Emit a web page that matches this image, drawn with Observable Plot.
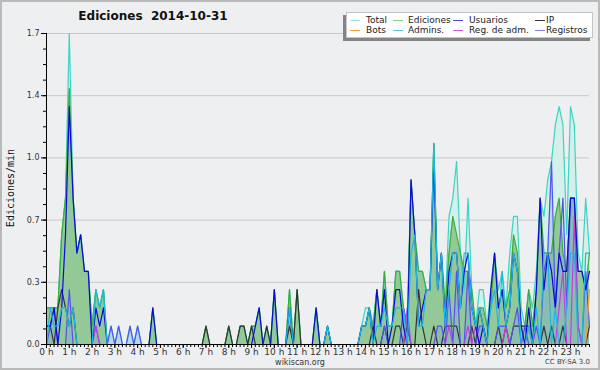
<!DOCTYPE html>
<html><head><meta charset="utf-8">
<script src="https://cdn.jsdelivr.net/npm/d3@7"></script>
<script src="https://cdn.jsdelivr.net/npm/@observablehq/plot@0.6"></script>
<style>
body{margin:0;background:#eeeff1;}
#wrap{position:relative;width:600px;height:370px;background:#eeeff1;font-family:"DejaVu Sans",sans-serif;overflow:hidden;}
#chart{position:absolute;left:0;top:0;}
#frame{position:absolute;left:0;top:0;width:600px;height:370px;box-sizing:border-box;border:2px solid #b9b9b9;pointer-events:none;}
#title{position:absolute;left:0;width:306px;top:9px;text-align:center;font-weight:bold;font-size:12px;white-space:pre;color:#111;}
#legend{position:absolute;left:346px;top:12px;width:245px;height:24px;background:#fff;border:1px solid #c4c4c4;box-shadow:-3px 3px 0 #858585;}
.li{position:absolute;font-size:9px;line-height:10px;color:#222;white-space:nowrap;}
.sw{position:absolute;width:10px;height:0;border-top:1.5px solid;}
#ylab{position:absolute;left:10px;top:188px;transform:translate(-50%,-50%) rotate(-90deg);font-family:"DejaVu Sans Mono",monospace;font-size:10px;color:#111;white-space:nowrap;}
#src{position:absolute;left:300px;top:358px;line-height:9px;transform:translateX(-50%);font-size:8px;color:#333;}
#lic{position:absolute;right:10px;top:358px;line-height:8px;font-size:7px;color:#444;}
</style></head>
<body>
<div id="wrap">
  <div id="chart"></div>
  <div id="title">Ediciones  2014-10-31</div>
  <div id="legend"></div>
  <div id="ylab">Ediciones/min</div>
  <div id="src">wikiscan.org</div>
  <div id="lic">CC BY-SA 3.0</div>
  <div id="frame"></div>
</div>
<script>
// edits per 10-minute bin (144 bins, 00:00 – 23:50)
const total = [
2,2,2,2,6,8, 17,8,5,6,4,4, 1,3,2,3,0,1, 0,1,0,0,1,0, 1,0,0,0,2,0, 0,0,0,0,0,0,
0,0,0,0,0,0, 1,0,0,0,0,0, 1,0,0,1,1,0, 1,1,2,0,1,0, 3,0,0,0,3,0, 3,0,0,0,0,2,
0,0,1,0,0,0, 0,0,0,0,0,1, 2,2,1,3,1,4, 1,1,4,4,2,1, 9,6,4,4,3,3, 11,3,5,2,7,8,
10,5,3,8,3,1, 3,3,1,3,5,3, 4,2,5,7,7,2, 1,3,2,4,8,7, 9,10,12,13,12,6, 13,12,5,4,8,5];
const ediciones = [
2,2,2,2,6,8, 14,8,5,6,4,4, 1,3,2,3,0,0, 0,0,0,0,0,0, 0,0,0,0,2,0, 0,0,0,0,0,0,
0,0,0,0,0,0, 1,0,0,0,0,0, 1,0,0,1,1,0, 1,1,2,0,1,0, 3,0,0,0,3,0, 3,0,0,0,0,2,
0,0,1,0,0,0, 0,0,0,0,0,1, 1,2,1,3,1,4, 1,1,4,4,2,1, 9,6,4,4,3,3, 11,3,5,2,5,7,
6,5,4,4,3,1, 2,2,1,2,5,2, 3,2,3,6,5,1, 1,3,1,3,8,5, 5,5,7,8,5,4, 8,8,4,4,3,5];
const usuarios = [
1,1,2,0,2,6, 13,8,5,6,4,4, 0,2,1,2,0,0, 0,0,0,0,0,0, 0,0,0,0,2,0, 0,0,0,0,0,0,
0,0,0,0,0,0, 0,0,0,0,0,0, 0,0,0,0,0,0, 0,1,2,0,0,0, 3,0,0,0,2,0, 0,0,0,0,0,2,
0,0,1,0,0,0, 0,0,0,0,0,1, 1,2,0,3,1,3, 0,1,3,3,1,0, 9,6,1,2,3,3, 10,3,5,1,4,5,
5,2,4,5,2,1, 0,1,0,3,5,2, 3,1,2,5,4,1, 0,2,0,3,8,3, 5,4,2,5,4,4, 8,8,4,4,3,4];
const ip = [
1,1,0,2,3,2, 1,2,0,0,0,0, 0,0,0,0,0,0, 0,0,0,0,0,0, 0,0,0,0,0,0, 0,0,0,0,0,0,
0,0,0,0,0,0, 1,0,0,0,0,0, 1,0,0,1,1,0, 1,0,0,0,1,0, 0,0,0,0,1,0, 3,0,0,0,0,0,
0,0,0,0,0,0, 0,0,0,0,0,0, 0,0,1,0,0,1, 0,0,1,1,0,1, 0,0,3,1,0,0, 1,0,0,1,1,1,
1,0,0,0,1,0, 2,1,0,0,0,1, 0,1,0,1,1,1, 1,1,0,0,0,1, 0,1,0,0,1,0, 0,0,0,0,0,1];
const bots = [
0,0,0,0,0,0, 0,0,0,0,0,0, 0,0,0,0,0,0, 0,0,0,0,0,0, 0,0,0,0,0,0, 0,0,0,0,0,0,
0,0,0,0,0,0, 0,0,0,0,0,0, 0,0,0,0,0,0, 0,0,0,0,0,0, 0,0,0,0,0,0, 0,0,0,0,0,0,
0,0,0,0,0,0, 0,0,0,0,0,0, 0,0,0,0,0,0, 0,0,0,0,0,0, 0,0,0,0,0,0, 0,0,0,0,0,0,
0,0,0,0,0,0, 0,0,0,0,0,0, 0,0,0,0,0,0, 0,0,0,0,0,0, 0,0,0,0,0,0, 0,0,0,0,0,3];
const admins = [
0,2,1,1,2,2, 1,2,0,0,0,0, 0,3,2,3,0,0, 0,0,0,0,0,0, 0,0,0,0,0,0, 0,0,0,0,0,0,
0,0,0,0,0,0, 0,0,0,0,0,0, 0,0,0,0,0,0, 0,0,0,0,0,0, 0,0,0,0,2,0, 0,0,0,0,0,0,
0,0,1,0,0,0, 0,0,0,0,0,1, 1,2,0,1,1,2, 1,1,2,2,2,0, 5,6,1,1,3,3, 11,3,5,1,3,5,
5,2,5,5,2,1, 2,1,0,2,3,1, 4,1,2,5,4,0, 0,1,0,2,0,5, 5,0,2,0,0,2, 5,5,0,0,5,5];
const regAdm = [
0,0,0,0,0,0, 0,0,0,0,0,0, 0,1,0,0,0,0, 0,0,0,0,0,0, 0,0,0,0,0,0, 0,0,0,0,0,0,
0,0,0,0,0,0, 0,0,0,0,0,0, 0,0,0,0,0,0, 0,0,0,0,0,0, 0,0,0,0,0,0, 0,0,0,0,0,0,
0,0,0,0,0,0, 0,0,0,0,0,0, 0,0,0,0,0,0, 0,0,0,0,0,2, 0,0,0,0,0,0, 0,0,0,0,1,0,
0,0,0,1,0,1, 0,0,0,0,0,0, 0,1,0,0,0,0, 0,1,0,0,0,0, 0,0,0,2,4,0, 0,7,1,0,0,0];
const registros = [
0,1,2,0,0,0, 3,0,0,0,0,0, 0,1,0,0,0,1, 0,1,0,0,1,0, 1,0,0,0,0,0, 0,0,0,0,0,0,
0,0,0,0,0,0, 0,0,0,0,0,0, 0,0,0,0,0,0, 0,0,0,0,0,0, 0,0,0,0,0,0, 0,0,0,0,0,0,
0,0,0,0,0,0, 0,0,0,0,0,0, 0,0,0,0,0,1, 0,0,0,0,2,1, 0,0,0,0,0,0, 0,1,1,0,3,0,
4,0,0,4,0,0, 1,1,0,0,0,1, 1,1,0,1,2,0, 1,0,0,1,0,4, 5,10,2,5,8,2, 8,8,1,0,4,1];

const hourTicks = [0,1,2,3,4,5,6,7,8,9,10,11,12,13,14,15,16,17,18,19,20,21,22,23];
const yTicks = [0, 0.34, 0.68, 1.02, 1.36, 1.7];

const legendNames = ["Total","Ediciones","Usuarios","IP","Bots","Admins.","Reg. de adm.","Registros"];
const legendColors = ["#a6e3dc","#86cf88","#4646e2","#3a3a3a","#f0a040","#5cc6e2","#cf5ee2","#8080f0"];

const rows = total.map((_, i) => ({
  h: i / 6,
  total: total[i] / 10, ediciones: ediciones[i] / 10, usuarios: usuarios[i] / 10,
  ip: ip[i] / 10, bots: bots[i] / 10, admins: admins[i] / 10,
  regAdm: regAdm[i] / 10, registros: registros[i] / 10
}));

const yMinor = d3.range(0, 21).map(i => i * 0.085);
const xMinor = d3.range(0, 144).map(i => i / 6);
const line = (key, color) => Plot.lineY(rows, {x: "h", y: key, stroke: color, strokeWidth: 1.2});

const plot = Plot.plot({
  width: 600, height: 370,
  marginLeft: 46, marginRight: 11, marginTop: 33, marginBottom: 26,
  style: {background: "transparent", fontFamily: "DejaVu Sans", fontSize: "8px", color: "black"},
  x: {domain: [0, 143 / 6], label: null},
  y: {domain: [0, 1.7], label: null},
  marks: [
    Plot.gridY({ticks: yTicks, stroke: "#c8c8c8", strokeOpacity: 1}),
    Plot.areaY(rows, {x: "h", y: "total", fill: "#d3f0ea"}),
    Plot.areaY(rows, {x: "h", y: "ediciones", fill: "#93c996"}),
    Plot.areaY(rows, {x: "h", y: "registros", fill: "#7f9ff0", fillOpacity: 0.3}),
    line("total", "#3fd3c3"),
    line("ediciones", "#3aad3a"),
    line("ip", "#333333"),
    line("registros", "#5252f2"),
    line("regAdm", "#c040e0"),
    line("usuarios", "#0a0ad8"),
    line("admins", "#1fb8e0"),
    line("bots", "#f0a030"),
    Plot.ruleX([0], {stroke: "black"}),
    Plot.ruleY([0], {stroke: "black"}),
    Plot.axisY({ticks: yTicks, tickFormat: d3.format(".1f"), tickSize: 5, tickPadding: 2, fontSize: 8, fill: "#333", label: null}),
    Plot.axisY({ticks: yMinor, tickSize: 3, tickFormat: () => "", label: null}),
    Plot.axisX({ticks: hourTicks, tickFormat: d => d + " h", tickSize: 4, tickPadding: 0, fontSize: 9, fill: "#333", label: null}),
    Plot.axisX({ticks: xMinor, tickSize: 3, tickFormat: () => "", label: null})
  ]
});
document.getElementById("chart").appendChild(plot);

// legend
const lg = document.getElementById("legend");
const swX = [3, 46, 106, 188], txX = [19, 61, 122, 199];
legendNames.forEach((name, i) => {
  const col = i % 4, row = Math.floor(i / 4);
  const y = row === 0 ? 2 : 12;
  const sw = document.createElement("div");
  sw.className = "sw";
  sw.style.left = swX[col] + "px";
  sw.style.top = (y + 5) + "px";
  sw.style.borderTopColor = legendColors[i];
  lg.appendChild(sw);
  const t = document.createElement("div");
  t.className = "li";
  t.style.left = txX[col] + "px";
  t.style.top = y + "px";
  t.textContent = name;
  lg.appendChild(t);
});
</script>
</body></html>
